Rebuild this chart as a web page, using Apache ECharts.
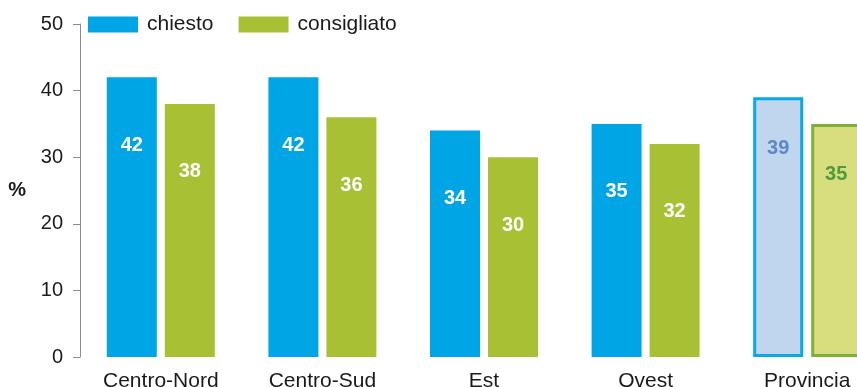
<!DOCTYPE html>
<html>
<head>
<meta charset="utf-8">
<style>
  html, body { margin: 0; padding: 0; background: #ffffff; overflow: hidden; }
  #chart { width: 891px; height: 387px; }
</style>
<script src="https://cdn.jsdelivr.net/npm/echarts@6/dist/echarts.min.js"></script>
</head>
<body>
<div id="chart"></div>
<script>
// Share of respondents (%) by area
const categories = ['Centro-Nord', 'Centro-Sud', 'Est', 'Ovest', 'Provincia'];
const chiesto = [42, 42, 34, 35, 39];
const consigliato = [38, 36, 30, 32, 35];
const yTicks = [0, 10, 20, 30, 40, 50];

const BLUE = '#00a5e6';
const GREEN = '#a8c034';
const FONT = 'Liberation Sans, Arial, sans-serif';

// The last category (Provincia) is drawn as a highlighted, outlined bar
function buildData(values, base) {
  return values.map((v, i) => {
    if (i < values.length - 1) return v;
    return {
      value: v,
      itemStyle: {
        color: base === 'blue' ? '#c0d6ee' : '#d7de7e',
        borderColor: base === 'blue' ? '#05aaea' : '#7db13c',
        borderWidth: 3
      },
      label: {
        color: base === 'blue' ? '#5f86c8' : '#4f9a3c',
        distance: 41
      }
    };
  });
}

const labelBase = {
  show: true,
  position: 'insideTop',
  distance: 58,
  color: '#ffffff',
  fontFamily: FONT,
  fontWeight: 'bold',
  fontSize: 20
};

const chart = echarts.init(document.getElementById('chart'), null, { renderer: 'canvas' });
chart.setOption({
  animation: false,
  textStyle: { fontFamily: FONT },
  legend: {
    left: 83,
    top: 9,
    itemWidth: 50,
    itemHeight: 16,
    itemGap: 25,
    icon: 'rect',
    textStyle: { fontFamily: FONT, fontSize: 21, color: '#1a1a1a', padding: [0, 0, 0, 4] },
    data: ['chiesto', 'consigliato']
  },
  grid: {
    left: 80, top: 24, width: 808, bottom: 30,
    containLabel: false,
    outerBoundsMode: 'none'
  },
  xAxis: {
    type: 'category',
    data: categories,
    axisLine: { show: false },
    axisTick: { show: false },
    axisLabel: { fontFamily: FONT, fontSize: 21, color: '#1a1a1a', margin: 14 }
  },
  yAxis: {
    type: 'value',
    min: yTicks[0],
    max: yTicks[yTicks.length - 1],
    interval: yTicks[1] - yTicks[0],
    name: '%',
    nameLocation: 'middle',
    nameRotate: 0,
    nameGap: 54,
    nameTextStyle: { fontFamily: FONT, fontSize: 20, fontWeight: 'bold', color: '#1a1a1a' },
    splitLine: { show: false },
    axisLine: { show: true, lineStyle: { color: '#8c8c8c', width: 1 } },
    axisTick: { show: true, length: 7, lineStyle: { color: '#8c8c8c' } },
    axisLabel: { fontFamily: FONT, fontSize: 20, color: '#1a1a1a', margin: 17 }
  },
  series: [
    {
      name: 'chiesto',
      type: 'bar',
      barWidth: 50,
      barGap: '16%',
      itemStyle: { color: BLUE },
      label: labelBase,
      data: buildData(chiesto, 'blue')
    },
    {
      name: 'consigliato',
      type: 'bar',
      barWidth: 50,
      barGap: '16%',
      itemStyle: { color: GREEN },
      label: labelBase,
      data: buildData(consigliato, 'green')
    }
  ]
});
</script>
</body>
</html>
